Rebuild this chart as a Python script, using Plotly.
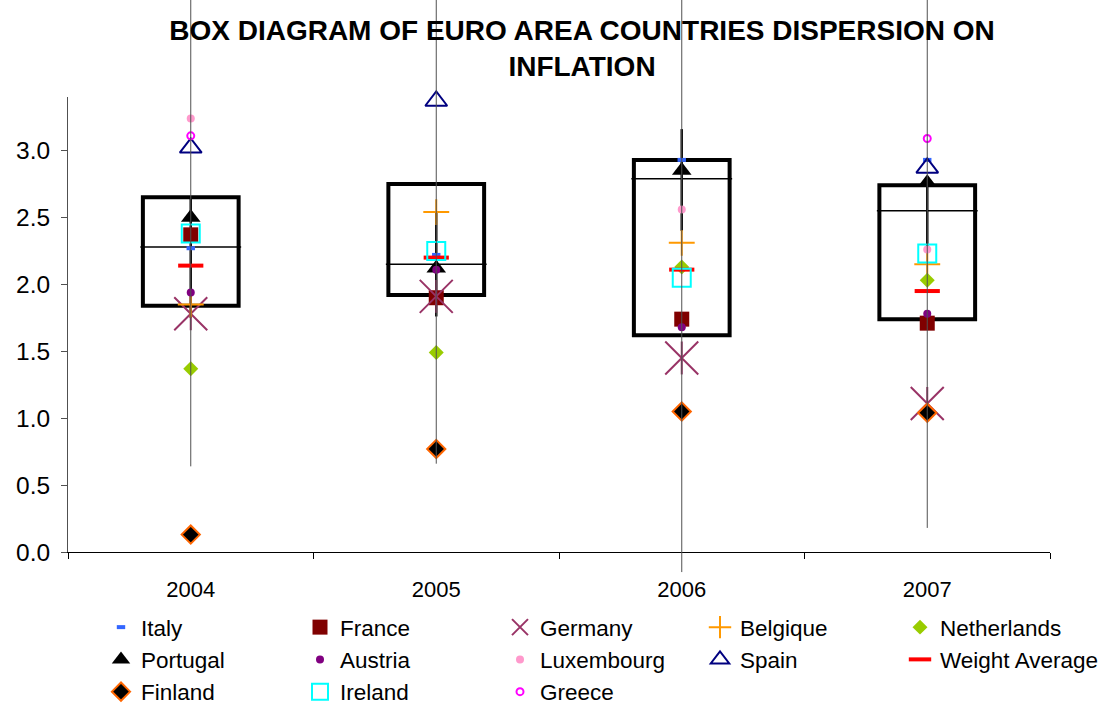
import plotly.graph_objects as go

years = ["2004", "2005", "2006", "2007"]

# box statistics
box_q1 = [1.84, 1.92, 1.62, 1.74]
box_q3 = [2.65, 2.75, 2.93, 2.74]
box_median = [2.28, 2.15, 2.79, 2.55]
whisker_low = [0.64, 0.66, -0.15, 0.18]
whisker_high = [4.3, 4.3, 4.3, 4.3]
core_high = [2.65, 2.54, 3.16, 2.80]
core_low = [1.75, 1.76, 2.40, 2.25]

# country series
italy = [2.27, 2.22, 2.93, 2.93]
france = [2.37, 1.90, 1.74, 1.71]
germany = [1.78, 1.91, 1.45, 1.11]
belgique = [1.85, 2.54, 2.31, 2.15]
netherlands = [1.37, 1.49, 2.13, 2.03]
portugal = [2.50, 2.12, 2.85, 2.76]
austria = [1.94, 2.11, 1.68, 1.78]
luxembourg = [3.24, None, 2.56, 2.26]
spain = [3.02, 3.37, None, 2.87]
weight_average = [2.14, 2.20, 2.11, 1.95]
finland = [0.13, 0.77, 1.05, 1.04]
ireland = [2.38, 2.25, 2.05, 2.23]
greece = [3.11, None, None, 3.09]

y_range = [0, 3.4]

FONT = "Liberation Sans, Arial, sans-serif"

# ---- layout geometry (pixels) ----
W, H = 1115, 707
M_L, M_R, M_T, M_B = 68, 65, 0, 130
PLOT_TOP, PLOT_BOTTOM = 97, 552          # where the value axis runs
area_h = H - M_T - M_B
dom = [(area_h + M_T - PLOT_BOTTOM) / area_h, (area_h + M_T - PLOT_TOP) / area_h]
# full-height helper axis with the same scale (for lines that run past the axes)
px_per_unit = (PLOT_BOTTOM - PLOT_TOP) / (y_range[1] - y_range[0])
y3_range = [y_range[0] - (M_T + area_h - PLOT_BOTTOM) / px_per_unit,
            y_range[1] + (PLOT_TOP - M_T) / px_per_unit]

fig = go.Figure()

# boxes
fig.add_trace(go.Bar(
    x=years, y=[h - l for h, l in zip(box_q3, box_q1)], base=box_q1,
    width=0.39, marker=dict(color="rgba(0,0,0,0)", line=dict(color="black", width=4)),
    showlegend=False, hoverinfo="skip"))

# thin high-low whiskers (run past the plot area like the original)
wx, wy = [], []
for yr, hi, lo in zip(years, whisker_high, whisker_low):
    wx += [yr, yr, None]
    wy += [hi, lo, None]
fig.add_trace(go.Scatter(x=wx, y=wy, mode="lines", yaxis="y3",
                         line=dict(color="#505050", width=1),
                         showlegend=False, hoverinfo="skip"))

# thicker central segment
cx, cy = [], []
for yr, hi, lo in zip(years, core_high, core_low):
    cx += [yr, yr, None]
    cy += [hi, lo, None]
fig.add_trace(go.Scatter(x=cx, y=cy, mode="lines", line=dict(color="black", width=2.5),
                         showlegend=False, hoverinfo="skip"))

# median lines
fig.add_trace(go.Scatter(
    x=years, y=box_median, mode="markers",
    marker=dict(symbol="line-ew", size=72, line=dict(color="black", width=1.5)),
    showlegend=False, hoverinfo="skip", cliponaxis=False))

def add_country(name, values, legend, **marker):
    fig.add_trace(go.Scatter(x=years, y=values, mode="markers", name=name,
                             marker=marker, legend=legend, cliponaxis=False))

add_country("Italy", italy, "legend", symbol="line-ew", size=6,
            color="#3366FF", line=dict(color="#3366FF", width=4))
add_country("France", france, "legend2", symbol="square", size=15,
            color="#800000", line=dict(width=0))
add_country("Germany", germany, "legend3", symbol="x-thin-open", size=33,
            color="#993366", line=dict(color="#993366", width=2))
fig.add_trace(go.Scatter(x=years, y=germany, mode="markers", showlegend=False,
                         marker=dict(symbol="line-ns-open", size=23.5, color="#993366",
                                     line=dict(color="#993366", width=2)),
                         cliponaxis=False, hoverinfo="skip"))
add_country("Belgique", belgique, "legend4", symbol="cross-thin-open", size=18.5,
            color="#FF9900", line=dict(color="#FF9900", width=2))
add_country("Netherlands", netherlands, "legend5", symbol="diamond", size=11.5,
            color="#99CC00", line=dict(width=0))
add_country("Portugal", portugal, "legend", symbol="triangle-up", size=17,
            color="black", line=dict(width=0))
add_country("Austria", austria, "legend2", symbol="circle", size=8,
            color="#800080", line=dict(width=0))
add_country("Luxembourg", luxembourg, "legend3", symbol="circle", size=8,
            color="#FF99CC", line=dict(width=0))
add_country("Spain", spain, "legend4", symbol="triangle-up-open", size=19,
            color="#000080", line=dict(color="#000080", width=2))
add_country("Weight Average", weight_average, "legend5", symbol="line-ew", size=18,
            color="#FF0000", line=dict(color="#FF0000", width=4))
add_country("Finland", finland, "legend", symbol="diamond", size=14,
            color="black", line=dict(color="#FF6600", width=2))
add_country("Ireland", ireland, "legend2", symbol="square-open", size=18,
            color="#00FFFF", line=dict(color="#00FFFF", width=2))
add_country("Greece", greece, "legend3", symbol="circle-open", size=7,
            color="#FF00FF", line=dict(color="#FF00FF", width=2))

LEGEND_TOP = 606
legend_y = (M_T + area_h - LEGEND_TOP) / area_h
legend_style = dict(orientation="v", xanchor="left", yanchor="top", y=legend_y,
                    font=dict(family=FONT, size=22.5, color="black"),
                    bgcolor="rgba(0,0,0,0)", itemwidth=30)
legend_cols_px = [101, 300, 500, 700, 900]
plot_w = W - M_L - M_R
legend_x = [(p - M_L) / plot_w for p in legend_cols_px]

xtick_font = dict(family=FONT, size=22, color="black")
ytick_font = dict(family=FONT, size=24.5, color="black")

fig.update_layout(
    width=W, height=H,
    margin=dict(l=M_L, r=M_R, t=M_T, b=M_B, autoexpand=False),
    paper_bgcolor="white", plot_bgcolor="rgba(0,0,0,0)",
    title=dict(text="BOX DIAGRAM OF EURO AREA COUNTRIES DISPERSION ON<br>INFLATION",
               x=582 / W, xanchor="center", xref="container",
               y=1 - 39.5 / H, yanchor="middle", yref="container",
               font=dict(family=FONT, size=28, color="black", weight="bold")),
    xaxis=dict(type="category", range=[-0.5, 3.5], showline=True, linecolor="black",
               ticks="outside", tickson="boundaries", ticklen=6, tickcolor="black",
               showgrid=False, tickfont=xtick_font, ticklabelstandoff=18,
               anchor="y"),
    yaxis=dict(range=y_range, domain=dom, dtick=0.5, tickformat=".1f", showline=True,
               linecolor="#505050", ticks="outside", ticklen=6, tickcolor="#505050",
               showgrid=False, zeroline=False, tickfont=ytick_font,
               ticklabelstandoff=6),
    yaxis2=dict(range=y_range, domain=dom, dtick=0.5, tickformat=".1f", showline=True,
                linecolor="#808080", ticks="outside", ticklen=6, tickcolor="#505050",
                showgrid=False, zeroline=False, tickfont=ytick_font,
                overlaying="y", side="right", ticklabelstandoff=6),
    yaxis3=dict(range=y3_range, domain=[0, 1], visible=False, anchor="x",
                showgrid=False, zeroline=False),
    legend=dict(x=legend_x[0], **legend_style),
    legend2=dict(x=legend_x[1], **legend_style),
    legend3=dict(x=legend_x[2], **legend_style),
    legend4=dict(x=legend_x[3], **legend_style),
    legend5=dict(x=legend_x[4], **legend_style),
    showlegend=True,
)

fig.write_html("out.html", config={"displayModeBar": False},
               post_script="document.body.style.margin='0px';")
